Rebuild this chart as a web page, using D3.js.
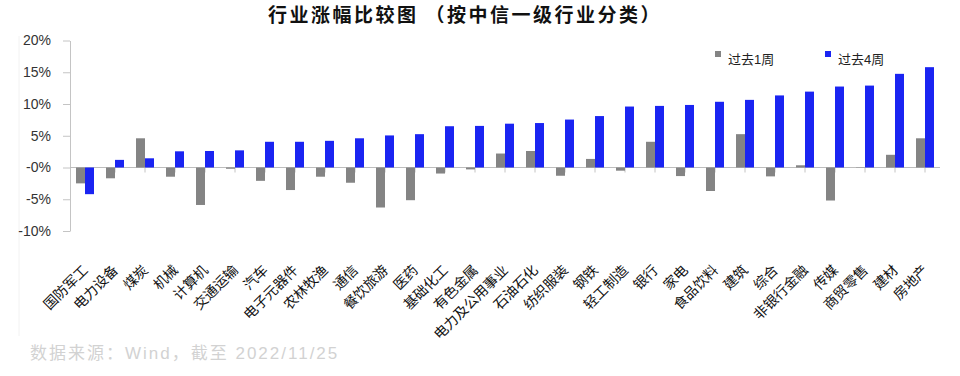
<!DOCTYPE html>
<html>
<head>
<meta charset="utf-8">
<script src="https://cdn.jsdelivr.net/npm/d3@7"></script>
<style>
  body { margin: 0; background: #fff; }
  text { font-family: "Liberation Sans", "Noto Sans CJK SC", sans-serif; }
</style>
</head>
<body>
<script>
// industry returns, past 1 week vs past 4 weeks (%)

var categories = ['国防军工', '电力设备', '煤炭', '机械', '计算机', '交通运输', '汽车', '电子元器件',
	'农林牧渔', '通信', '餐饮旅游', '医药', '基础化工', '有色金属', '电力及公用事业', '石油石化',
	'纺织服装', '钢铁', '轻工制造', '银行', '家电', '食品饮料', '建筑', '综合', '非银行金融',
	'传媒', '商贸零售', '建材', '房地产'];

var week1 = [-2.5, -1.7, 4.6, -1.45, -5.9, -0.2, -2.1, -3.55, -1.45, -2.4, -6.3, -5.15, -0.95, -0.3,
	2.2, 2.6, -1.3, 1.35, -0.5, 4.05, -1.35, -3.7, 5.25, -1.4, 0.35, -5.2, 0.05, 2.0, 4.6];

var week4 = [-4.2, 1.2, 1.45, 2.55, 2.6, 2.7, 4.05, 4.05, 4.2, 4.6, 5.05, 5.25, 6.5, 6.55, 6.9, 7.0,
	7.55, 8.1, 9.6, 9.7, 9.85, 10.35, 10.65, 11.35, 11.95, 12.75, 12.9, 14.75, 15.8];

var yTicks = [-10, -5, 0, 5, 10, 15, 20];
var yTickLabels = ['-10%', '-5%', '-0%', '5%', '10%', '15%', '20%'];

var seriesKeys = ['w1', 'w4'];
var seriesNames = ['过去1周', '过去4周'];
var colors = ['#848484', '#1a24f2'];

var width = 960,
	height = 376;

var svg = d3.select('body').append('svg')
	.attr('width', width)
	.attr('height', height);

var data = categories.map(function(c, i){
	return {name: c, w1: week1[i], w4: week4[i]};
});

var x0 = d3.scaleBand()
	.domain(categories)
	.range([70, 940])
	.paddingInner(0.4)
	.paddingOuter(0.2);

var x1 = d3.scaleBand()
	.domain(seriesKeys)
	.range([0, x0.bandwidth()]);

var y = d3.scaleLinear()
	.domain([-10, 20])
	.range([231, 40.5]);

// faint frame line on the left
svg.append('line')
	.attr('x1', 19).attr('x2', 19)
	.attr('y1', 36).attr('y2', 336)
	.attr('stroke', '#f2f2f2')
	.attr('stroke-width', 1);

// title
svg.append('text')
	.attr('x', 465)
	.attr('y', 22)
	.attr('text-anchor', 'middle')
	.attr('font-size', 19)
	.attr('font-weight', 'bold')
	.attr('letter-spacing', 2.5)
	.attr('fill', '#111')
	.style('font-family', '"Noto Sans CJK SC", sans-serif')
	.text('行业涨幅比较图 （按中信一级行业分类）');

// y axis
var yAxis = svg.append('g')
	.attr('transform', 'translate(70,0)')
	.call(d3.axisLeft(y)
		.tickValues(yTicks)
		.tickFormat(function(d, i){ return yTickLabels[i]; })
		.tickSize(7)
		.tickSizeOuter(0)
		.tickPadding(12));

yAxis.select('.domain').attr('stroke', '#c4c4c4');
yAxis.selectAll('.tick line').attr('stroke', '#c4c4c4');
yAxis.selectAll('.tick text')
	.attr('font-size', 14)
	.attr('fill', '#333')
	.style('font-family', '"Liberation Sans", sans-serif');

// zero line + category ticks
svg.append('line')
	.attr('x1', 70).attr('x2', 940)
	.attr('y1', y(0)).attr('y2', y(0))
	.attr('stroke', '#bdbdbd')
	.attr('stroke-width', 1);

svg.selectAll('.xtick')
	.data(categories)
	.enter().append('line').classed('xtick', true)
	.attr('x1', function(d){ return x0(d) + x0.bandwidth() / 2; })
	.attr('x2', function(d){ return x0(d) + x0.bandwidth() / 2; })
	.attr('y1', y(0))
	.attr('y2', y(0) + 5)
	.attr('stroke', '#c4c4c4');

// bars
var groups = svg.selectAll('.grp')
	.data(data)
	.enter().append('g').classed('grp', true)
	.attr('transform', function(d){ return 'translate(' + x0(d.name) + ',0)'; });

groups.selectAll('rect')
	.data(function(d){
		return seriesKeys.map(function(k, j){ return {key: k, value: d[k], color: colors[j]}; });
	})
	.enter().append('rect')
	.attr('x', function(d){ return x1(d.key); })
	.attr('width', x1.bandwidth())
	.attr('y', function(d){ return y(Math.max(0, d.value)); })
	.attr('height', function(d){ return Math.abs(y(d.value) - y(0)); })
	.attr('fill', function(d){ return d.color; });

// category labels
svg.selectAll('.xlab')
	.data(categories)
	.enter().append('text').classed('xlab', true)
	.attr('transform', function(d){
		return 'translate(' + (x0(d) + x0.bandwidth() / 2 + 4) + ',271) rotate(-45)';
	})
	.attr('text-anchor', 'end')
	.attr('font-size', 14)
	.attr('fill', '#111')
	.style('font-family', '"Noto Sans CJK SC", sans-serif')
	.text(function(d){ return d; });

// legend
var legendX = [715, 825];
var legend = svg.selectAll('.leg')
	.data(seriesNames)
	.enter().append('g').classed('leg', true)
	.attr('transform', function(d, i){ return 'translate(' + legendX[i] + ',51)'; });

legend.append('rect')
	.attr('width', 6)
	.attr('height', 6)
	.attr('fill', function(d, i){ return colors[i]; });

legend.append('text')
	.attr('x', 13)
	.attr('y', 13)
	.attr('font-size', 13)
	.attr('fill', '#222')
	.text(function(d){ return d; });

// source note
svg.append('text')
	.attr('x', 30)
	.attr('y', 359)
	.attr('font-size', 17)
	.attr('letter-spacing', 2)
	.attr('fill', '#d2d2d2')
	.text('数据来源：Wind，截至 2022/11/25');
</script>
</body>
</html>
